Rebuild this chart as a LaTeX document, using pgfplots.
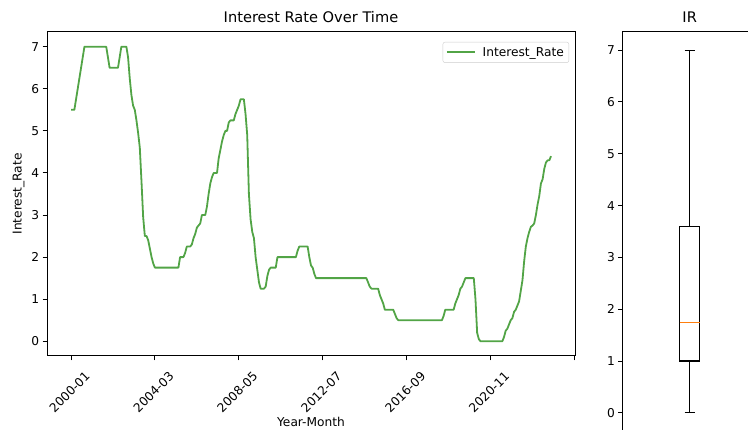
\documentclass[border=0pt]{standalone}
\usepackage{pgfplots}
\pgfplotsset{compat=1.18}
\usepgfplotslibrary{statistics}
\usepackage{fontspec}
\setmainfont{DejaVu Sans}
\definecolor{irgreen}{RGB}{82,164,70}
\definecolor{mplorange}{RGB}{255,127,14}
\newcommand{\tickfont}{\fontsize{12.2}{14}\selectfont}
\newcommand{\titlefont}{\fontsize{14.6}{17}\selectfont}
\pgfplotsset{
  mplstyle/.style={
    scale only axis,
    axis line style={line width=1pt, black},
    tick align=outside,
    tick pos=left,
    major tick length=4.3pt,
    every tick/.style={line width=1pt, black},
    tick label style={font=\tickfont, black},
    label style={font=\tickfont, black},
    /pgf/number format/assume math mode=true,
    title style={font=\titlefont, black},
  }
}
\begin{document}
\begin{tikzpicture}[x=1pt,y=1pt]
\useasboundingbox (0,0) rectangle (748,430);
\begin{axis}[mplstyle,
  at={(47pt,74pt)}, anchor=south west,
  width=528pt, height=324pt,
  xmin=-14.3, xmax=300.3, ymin=-0.35, ymax=7.35,
  xtick={0,50,100,150,200,250,300},
  xticklabels={2000-01,2004-03,2008-05,2012-07,2016-09,2020-11,{}},
  xticklabel style={yshift=-32pt, xshift=-1.5pt, rotate=45, anchor=center},
  ytick={0,1,2,3,4,5,6,7},
  xlabel={Year-Month}, ylabel={Interest\_Rate},
  xlabel style={at={(axis description cs:0.5,0)}, anchor=center, yshift=-66pt},
  title={Interest Rate Over Time},
  legend style={at={(1,1)}, anchor=north east, xshift=-6pt, yshift=-10pt,
    draw=black!20, rounded corners=2pt, font=\tickfont, inner sep=3pt,
    cells={anchor=west}},
  legend image code/.code={\draw[#1] (0pt,0pt) -- (28pt,0pt);},
]
\addplot[irgreen, line width=1.8pt, line join=round] coordinates {
(0,5.5)(1,5.5)(2,5.5)(3,5.75)(4,6.0)(5,6.25)(6,6.5)(7,6.75)(8,7.0)(9,7.0)
(10,7.0)(11,7.0)(12,7.0)(13,7.0)(14,7.0)(15,7.0)(16,7.0)(17,7.0)(18,7.0)(19,7.0)
(20,7.0)(21,7.0)(22,6.75)(23,6.5)(24,6.5)(25,6.5)(26,6.5)(27,6.5)(28,6.5)(29,6.75)
(30,7.0)(31,7.0)(32,7.0)(33,7.0)(34,6.75)(35,6.25)(36,5.85)(37,5.6)(38,5.5)(39,5.25)
(40,4.95)(41,4.6)(42,3.8)(43,2.95)(44,2.5)(45,2.5)(46,2.4)(47,2.2)(48,2.0)(49,1.85)
(50,1.75)(51,1.75)(52,1.75)(53,1.75)(54,1.75)(55,1.75)(56,1.75)(57,1.75)(58,1.75)(59,1.75)
(60,1.75)(61,1.75)(62,1.75)(63,1.75)(64,1.75)(65,2.0)(66,2.0)(67,2.0)(68,2.1)(69,2.25)
(70,2.25)(71,2.25)(72,2.3)(73,2.45)(74,2.55)(75,2.7)(76,2.75)(77,2.8)(78,3.0)(79,3.0)
(80,3.0)(81,3.2)(82,3.5)(83,3.75)(84,3.9)(85,4.0)(86,4.0)(87,4.0)(88,4.35)(89,4.55)
(90,4.75)(91,4.9)(92,5.0)(93,5.0)(94,5.2)(95,5.25)(96,5.25)(97,5.25)(98,5.4)(99,5.5)
(100,5.6)(101,5.75)(102,5.75)(103,5.75)(104,5.4)(105,4.9)(106,3.5)(107,2.9)(108,2.6)(109,2.45)
(110,2.0)(111,1.7)(112,1.4)(113,1.25)(114,1.25)(115,1.25)(116,1.3)(117,1.55)(118,1.7)(119,1.75)
(120,1.75)(121,1.75)(122,1.75)(123,2.0)(124,2.0)(125,2.0)(126,2.0)(127,2.0)(128,2.0)(129,2.0)
(130,2.0)(131,2.0)(132,2.0)(133,2.0)(134,2.0)(135,2.15)(136,2.25)(137,2.25)(138,2.25)(139,2.25)
(140,2.25)(141,2.25)(142,2.0)(143,1.8)(144,1.75)(145,1.6)(146,1.5)(147,1.5)(148,1.5)(149,1.5)
(150,1.5)(151,1.5)(152,1.5)(153,1.5)(154,1.5)(155,1.5)(156,1.5)(157,1.5)(158,1.5)(159,1.5)
(160,1.5)(161,1.5)(162,1.5)(163,1.5)(164,1.5)(165,1.5)(166,1.5)(167,1.5)(168,1.5)(169,1.5)
(170,1.5)(171,1.5)(172,1.5)(173,1.5)(174,1.5)(175,1.5)(176,1.5)(177,1.4)(178,1.3)(179,1.25)
(180,1.25)(181,1.25)(182,1.25)(183,1.25)(184,1.1)(185,1.0)(186,0.9)(187,0.75)(188,0.75)(189,0.75)
(190,0.75)(191,0.75)(192,0.75)(193,0.65)(194,0.55)(195,0.5)(196,0.5)(197,0.5)(198,0.5)(199,0.5)
(200,0.5)(201,0.5)(202,0.5)(203,0.5)(204,0.5)(205,0.5)(206,0.5)(207,0.5)(208,0.5)(209,0.5)
(210,0.5)(211,0.5)(212,0.5)(213,0.5)(214,0.5)(215,0.5)(216,0.5)(217,0.5)(218,0.5)(219,0.5)
(220,0.5)(221,0.5)(222,0.6)(223,0.75)(224,0.75)(225,0.75)(226,0.75)(227,0.75)(228,0.75)(229,0.9)
(230,1.0)(231,1.1)(232,1.25)(233,1.3)(234,1.4)(235,1.5)(236,1.5)(237,1.5)(238,1.5)(239,1.5)
(240,1.5)(241,1.0)(242,0.2)(243,0.05)(244,0.0)(245,0.0)(246,0.0)(247,0.0)(248,0.0)(249,0.0)
(250,0.0)(251,0.0)(252,0.0)(253,0.0)(254,0.0)(255,0.0)(256,0.0)(257,0.0)(258,0.1)(259,0.25)
(260,0.3)(261,0.4)(262,0.5)(263,0.55)(264,0.7)(265,0.75)(266,0.85)(267,0.95)(268,1.2)(269,1.45)
(270,1.9)(271,2.25)(272,2.45)(273,2.6)(274,2.72)(275,2.75)(276,2.8)(277,3.0)(278,3.25)(279,3.45)
(280,3.75)(281,3.85)(282,4.1)(283,4.25)(284,4.3)(285,4.3)(286,4.4)
};
\addlegendentry{\hspace{5pt}Interest\_Rate}
\end{axis}
\begin{axis}[mplstyle,
  at={(622.7pt,-1pt)}, anchor=south west,
  width=134pt, height=399pt,
  xmin=0.5, xmax=1.5, ymin=-0.35, ymax=7.35,
  xtick=\empty,
  ytick={0,1,2,3,4,5,6,7},
  title={IR},
]
\addplot[draw=black, line width=1.2pt, solid,
  boxplot prepared={median=1.75, upper quartile=3.6, lower quartile=1.0,
    upper whisker=7, lower whisker=0, draw position=1, draw direction=y,
    box extend=0.15, whisker extend=0.075,
    every median/.style={draw=mplorange, line width=1.2pt}}]
  coordinates {};
\end{axis}
\end{tikzpicture}
\end{document}
